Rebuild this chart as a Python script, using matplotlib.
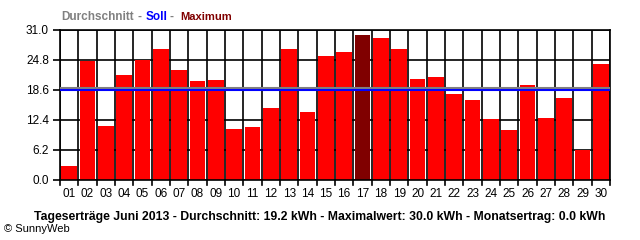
#!/usr/bin/env python3
import matplotlib
matplotlib.use("Agg")
import matplotlib.pyplot as plt
import numpy as np

# daily yields June 2013 (kWh)
days = ["%02d" % d for d in range(1, 31)]
yields = [2.9, 24.6, 11.2, 21.7, 24.8, 27.1, 22.7, 20.5, 20.7, 10.5,
          11.0, 14.9, 27.1, 14.1, 25.6, 26.5, 30.0, 29.3, 27.1, 20.9,
          21.3, 17.8, 16.5, 12.6, 10.3, 19.6, 12.8, 16.9, 6.2, 24.0]
average = 19.0
target = 18.6
yticks = [0.0, 6.2, 12.4, 18.6, 24.8, 31.0]
caption = ("Tageserträge Juni 2013 - Durchschnitt: 19.2 kWh - "
           "Maximalwert: 30.0 kWh - Monatsertrag: 0.0 kWh")

plt.rcParams['font.family'] = ['Liberation Sans', 'DejaVu Sans']

fig = plt.figure(figsize=(6.4, 2.4), dpi=100)
ax = fig.add_axes([60 / 640, 60 / 240, 550 / 640, 150 / 240])

x = np.arange(len(days))
imax = int(np.argmax(yields))
colors = ['#ff0000'] * len(yields)
colors[imax] = '#800000'
ax.bar(x, yields, width=0.84, color=colors, zorder=2)

# grid: vertical lines between days, horizontal at the ticks
for b in np.arange(-0.5, len(days), 1.0):
    ax.axvline(b, color='black', lw=1.2, zorder=1)
for t in yticks:
    ax.axhline(t, color='black', lw=1.2, zorder=1)

ax.axhline(average, color='#808080', lw=1.5, zorder=3)
ax.axhline(target, color='#0000ff', lw=1.5, zorder=3)

ax.set_xlim(-0.5, len(days) - 0.5)
ax.set_ylim(0, 31.0)
ax.set_yticks(yticks)
ax.set_yticklabels(["%.1f" % t for t in yticks], fontsize=8.5)
ax.set_xticks(x)
ax.set_xticklabels(days, fontsize=8.5)
ax.tick_params(axis='x', length=0, pad=6)
ax.tick_params(axis='y', length=5, width=1.2, pad=3)
for b in np.arange(-0.5, len(days), 1.0):
    ax.plot([b, b], [0, -0.035], transform=ax.get_xaxis_transform(),
            color='black', lw=1.2, clip_on=False)
for s in ax.spines.values():
    s.set_linewidth(1.2)

# legend-like title
ty = 1 - 17 / 240
fig.text(61 / 640, ty, "Durchschnitt", color='#808080',
         fontsize=8.5, fontweight='bold', va='center')
fig.text(137 / 640, ty, "-", color='#808080',
         fontsize=8.5, fontweight='bold', va='center')
fig.text(146 / 640, ty, "Soll", color='#0000ff',
         fontsize=8.5, fontweight='bold', va='center')
fig.text(170 / 640, ty, "-", color='#808080',
         fontsize=8.5, fontweight='bold', va='center')
fig.text(180 / 640, ty, "Maximum", color='#800000',
         fontsize=8, fontweight='bold', va='center')

fig.text(320 / 640, 1 - 217 / 240, caption, fontsize=8.8,
         fontweight='bold', ha='center', va='center')
fig.text(4 / 640, 1 - 229 / 240, "© SunnyWeb", fontsize=8, va='center')

fig.savefig("out.png", dpi=100)
